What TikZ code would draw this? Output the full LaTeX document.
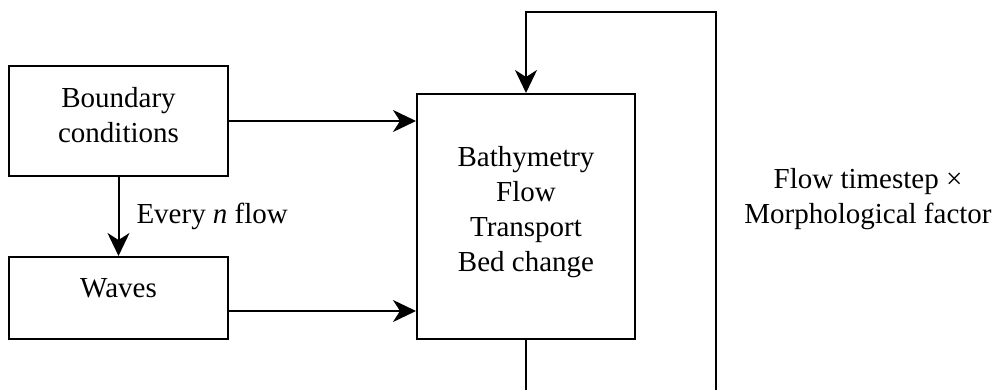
\documentclass[tikz,border=0pt]{standalone}
\usepackage{fontspec}
\setmainfont{Liberation Serif}
\usetikzlibrary{arrows.meta}
\begin{document}
\begin{tikzpicture}[x=1pt,y=-1pt,
  every node/.style={font=\fontsize{29}{35}\selectfont},
  blockbox/.style={draw, line width=2pt, inner sep=0pt},
  lbl/.style={align=center, inner sep=0pt},
  link/.style={line width=2pt},
  flowarrow/.style={link, -{Stealth[length=23pt,width=22pt,inset=7pt]}}]
  \useasboundingbox (0,0) rectangle (996,390);
  % blocks
  \node[blockbox, minimum width=219pt, minimum height=110pt] (bc) at (118.5,121) {};
  \node[lbl] (bctext) at (118.5,115) {Boundary\\conditions};
  \node[blockbox, minimum width=219pt, minimum height=82pt] (waves) at (118.5,298) {};
  \node[lbl] (wavestext) at (118.5,288) {Waves};
  \node[blockbox, minimum width=218pt, minimum height=245pt] (model) at (526,216.5) {};
  \node[lbl] (modeltext) at (526,212) {Bathymetry\\Flow\\Transport\\Bed change};
  % inputs
  \draw[flowarrow] (bc.east |- 0,121) -- (model.west |- 0,121);
  \draw[flowarrow] (waves.east |- 0,311) -- (model.west |- 0,311);
  \draw[flowarrow] (bc.south) -- node[lbl, right=17pt] (every) {Every \textit{n} flow} (waves.north);
  % morphological feedback loop
  \coordinate (loopdown) at (526,392);
  \coordinate (loopup) at (716,392);
  \coordinate (looptop) at (526,12);
  \draw[link] (model.south) -- (loopdown);
  \draw[flowarrow] (loopup) |- (looptop) -- (model.north);
  \node[lbl] (morfac) at (868,199) {Flow timestep ×\\Morphological factor};
\end{tikzpicture}
\end{document}
